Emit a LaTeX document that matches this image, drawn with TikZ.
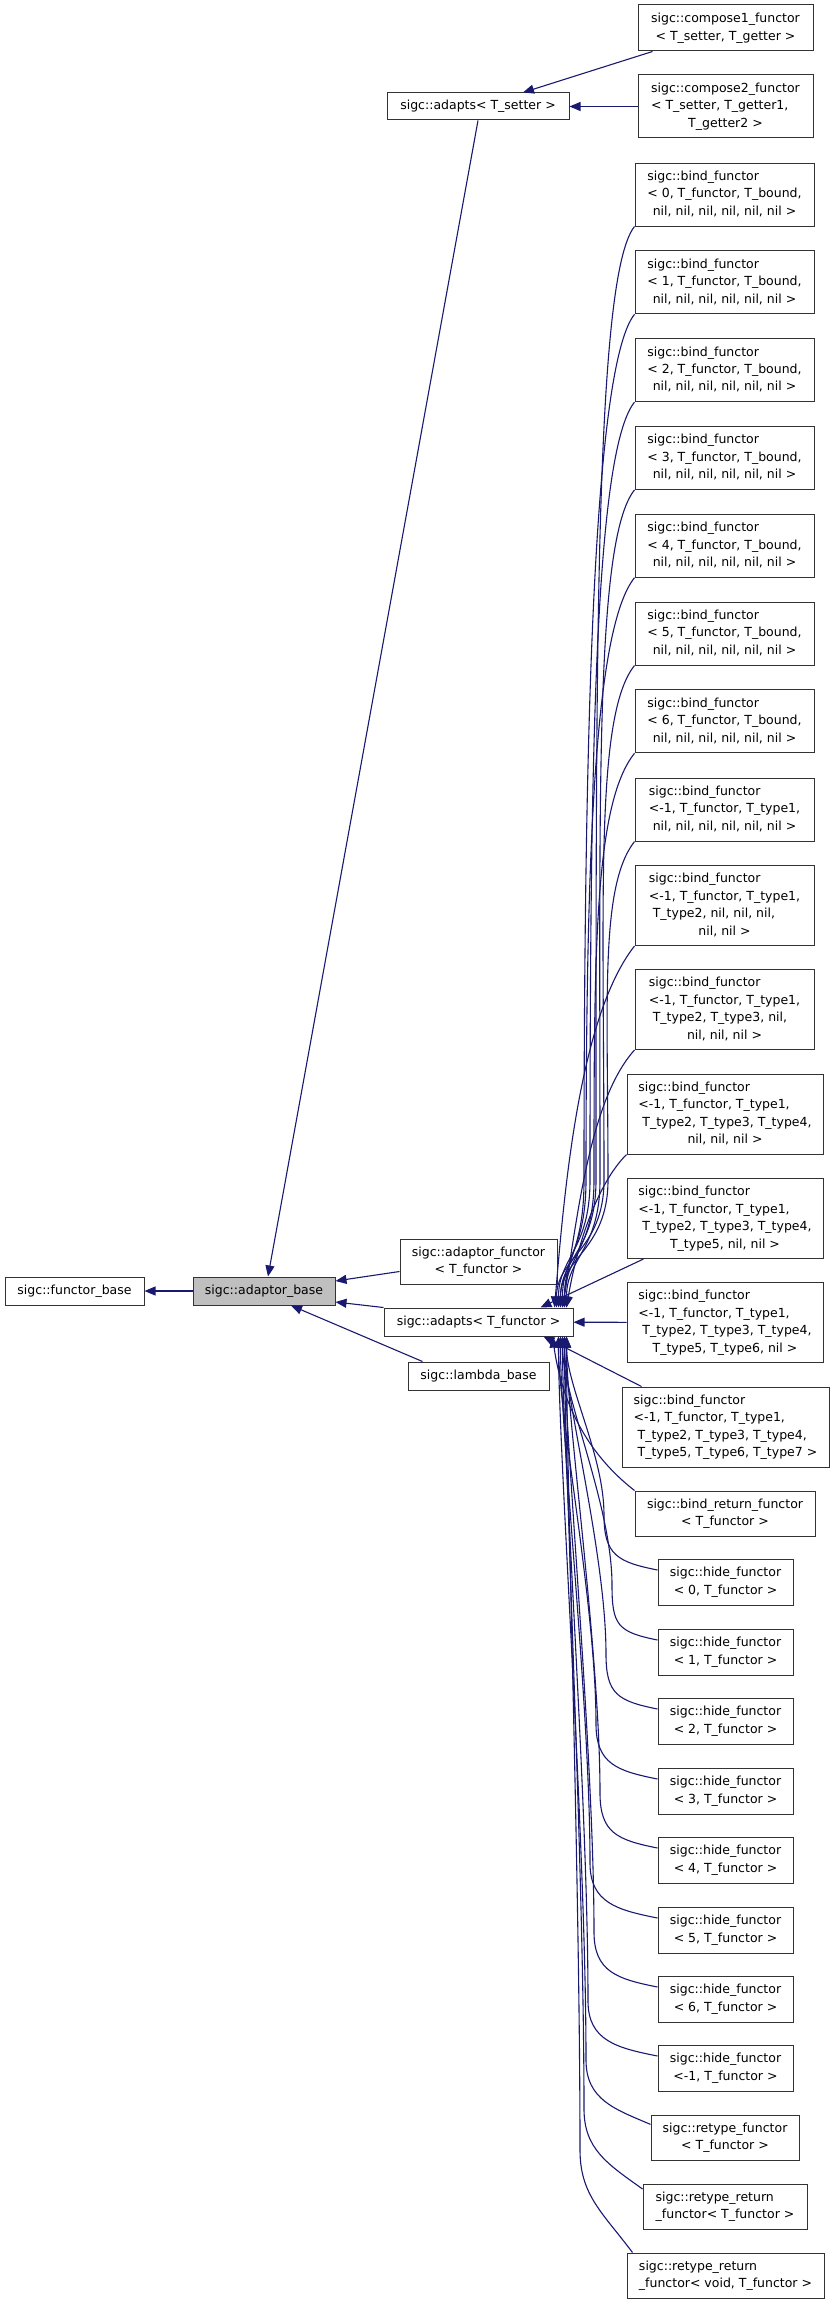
\documentclass[tikz,border=0pt]{standalone}
\usepackage{fontspec}
\newfontfamily\dvsans{DejaVu Sans}
\usetikzlibrary{arrows.meta}
\definecolor{edgeblue}{HTML}{191970}
\newcommand{\lrow}[1]{\multicolumn{1}{@{}l@{}}{#1}}
\newcommand{\clabel}[1]{\begin{tabular}{@{}c@{}}#1\end{tabular}}

\begin{document}
\begin{tikzpicture}[x=1pt,y=-1pt]
\tikzset{
  cls/.style={draw=black!80,line width=1pt,fill=white,inner sep=0pt,font=\dvsans\fontsize{12.5pt}{17.4pt}\selectfont},
  onebox/.style={cls,minimum height=28pt},
  twobox/.style={cls,minimum height=45pt},
  hidebox/.style={cls,minimum width=135pt,minimum height=46pt},
  bindbox/.style={cls,minimum width=179pt,minimum height=63pt},
  bindtall/.style={cls,minimum width=196pt,minimum height=80pt},
  inh/.style={draw=edgeblue,line width=1.1pt,>={Triangle[length=11pt,width=9pt]},<-}
}
\useasboundingbox (0,0) rectangle (835,2304);
% left part
\node[onebox,minimum width=139pt] (n_fbase) at (74.5,1291) {sigc::functor\_base};
\node[onebox,minimum width=142pt,fill=black!25] (n_abase) at (264,1291) {sigc::adaptor\_base};
\node[onebox,minimum width=182pt,minimum height=27pt] (n_asetter) at (478,106.5) {sigc::adapts< T\_setter >};
\node[twobox,minimum width=157pt] (n_afunctor) at (478.5,1261.5) {\clabel{sigc::adaptor\_functor\\< T\_functor >}};
\node[onebox,minimum width=189pt] (n_afunc) at (478.5,1322) {sigc::adapts< T\_functor >};
\node[onebox,minimum width=141pt] (n_lambda) at (478.5,1376) {sigc::lambda\_base};
% compose
\node[twobox,minimum width=175pt,minimum height=46pt] (n_comp1) at (725.5,28) {\clabel{sigc::compose1\_functor\\< T\_setter, T\_getter >}};
\node[cls,minimum width=175pt,minimum height=63pt] (n_comp2) at (725.5,106.5) {\clabel{\lrow{sigc::compose2\_functor}\\ \lrow{< T\_setter, T\_getter1,}\\ T\_getter2 >}};
% bind
\node[bindbox] (n_bind0) at (724.5,194.5) {\clabel{\lrow{sigc::bind\_functor}\\ \lrow{< 0, T\_functor, T\_bound,}\\ nil, nil, nil, nil, nil, nil >}};
\node[bindbox] (n_bind1) at (724.5,282.3) {\clabel{\lrow{sigc::bind\_functor}\\ \lrow{< 1, T\_functor, T\_bound,}\\ nil, nil, nil, nil, nil, nil >}};
\node[bindbox] (n_bind2) at (724.5,370.1) {\clabel{\lrow{sigc::bind\_functor}\\ \lrow{< 2, T\_functor, T\_bound,}\\ nil, nil, nil, nil, nil, nil >}};
\node[bindbox] (n_bind3) at (724.5,457.9) {\clabel{\lrow{sigc::bind\_functor}\\ \lrow{< 3, T\_functor, T\_bound,}\\ nil, nil, nil, nil, nil, nil >}};
\node[bindbox] (n_bind4) at (724.5,545.7) {\clabel{\lrow{sigc::bind\_functor}\\ \lrow{< 4, T\_functor, T\_bound,}\\ nil, nil, nil, nil, nil, nil >}};
\node[bindbox] (n_bind5) at (724.5,633.5) {\clabel{\lrow{sigc::bind\_functor}\\ \lrow{< 5, T\_functor, T\_bound,}\\ nil, nil, nil, nil, nil, nil >}};
\node[bindbox] (n_bind6) at (724.5,721.3) {\clabel{\lrow{sigc::bind\_functor}\\ \lrow{< 6, T\_functor, T\_bound,}\\ nil, nil, nil, nil, nil, nil >}};
\node[bindbox] (n_bindm1a) at (724.5,809.5) {\clabel{\lrow{sigc::bind\_functor}\\ \lrow{<-1, T\_functor, T\_type1,}\\ nil, nil, nil, nil, nil, nil >}};
\node[bindbox,minimum height=80pt] (n_bindm1b) at (724.5,905.5) {\clabel{\lrow{sigc::bind\_functor}\\ \lrow{<-1, T\_functor, T\_type1,}\\ \lrow{\ T\_type2, nil, nil, nil,}\\ nil, nil >}};
\node[bindbox,minimum height=80pt] (n_bindm1c) at (724.5,1009.5) {\clabel{\lrow{sigc::bind\_functor}\\ \lrow{<-1, T\_functor, T\_type1,}\\ \lrow{\ T\_type2, T\_type3, nil,}\\ nil, nil, nil >}};
\node[bindtall] (n_bindm1d) at (725,1114) {\clabel{\lrow{sigc::bind\_functor}\\ \lrow{<-1, T\_functor, T\_type1,}\\ \lrow{\ T\_type2, T\_type3, T\_type4,}\\ nil, nil, nil >}};
\node[bindtall] (n_bindm1e) at (725,1218.5) {\clabel{\lrow{sigc::bind\_functor}\\ \lrow{<-1, T\_functor, T\_type1,}\\ \lrow{\ T\_type2, T\_type3, T\_type4,}\\ T\_type5, nil, nil >}};
\node[bindtall] (n_bindm1f) at (725,1322.5) {\clabel{\lrow{sigc::bind\_functor}\\ \lrow{<-1, T\_functor, T\_type1,}\\ \lrow{\ T\_type2, T\_type3, T\_type4,}\\ T\_type5, T\_type6, nil >}};
\node[bindtall,minimum width=207pt] (n_bindm1g) at (725.5,1427) {\clabel{\lrow{sigc::bind\_functor}\\ \lrow{<-1, T\_functor, T\_type1,}\\ \lrow{\ T\_type2, T\_type3, T\_type4,}\\ \lrow{\ T\_type5, T\_type6, T\_type7 >}}};
\node[twobox,minimum width=180pt] (n_bindret) at (725,1513.5) {\clabel{sigc::bind\_return\_functor\\< T\_functor >}};
% hide
\node[hidebox] (n_hide0) at (725.5,1582) {\clabel{sigc::hide\_functor\\< 0, T\_functor >}};
\node[hidebox] (n_hide1) at (725.5,1652) {\clabel{sigc::hide\_functor\\< 1, T\_functor >}};
\node[hidebox] (n_hide2) at (725.5,1721) {\clabel{sigc::hide\_functor\\< 2, T\_functor >}};
\node[hidebox] (n_hide3) at (725.5,1791) {\clabel{sigc::hide\_functor\\< 3, T\_functor >}};
\node[hidebox] (n_hide4) at (725.5,1860) {\clabel{sigc::hide\_functor\\< 4, T\_functor >}};
\node[hidebox] (n_hide5) at (725.5,1930) {\clabel{sigc::hide\_functor\\< 5, T\_functor >}};
\node[hidebox] (n_hide6) at (725.5,1999) {\clabel{sigc::hide\_functor\\< 6, T\_functor >}};
\node[hidebox] (n_hidem1) at (725.5,2068) {\clabel{sigc::hide\_functor\\<-1, T\_functor >}};
% retype
\node[twobox,minimum width=148pt] (n_retype) at (725,2137.5) {\clabel{sigc::retype\_functor\\< T\_functor >}};
\node[twobox,minimum width=164pt] (n_retret) at (725,2206.5) {\clabel{\lrow{sigc::retype\_return}\\ \_functor< T\_functor >}};
\node[twobox,minimum width=197pt] (n_retvoid) at (725.5,2275.5) {\clabel{\lrow{sigc::retype\_return}\\ \_functor< void, T\_functor >}};

\draw[inh] (n_fbase) -- (n_abase);
\draw[inh] ([xshift=4pt]n_abase.north) -- (n_asetter.south);
\draw[inh] ([yshift=10pt]n_abase.east) -- ([yshift=-10pt]n_afunctor.west);
\draw[inh] ([yshift=-11pt]n_abase.east) -- (n_afunc.north west);
\draw[inh] ([xshift=27pt]n_abase.south) -- ([xshift=15pt]n_lambda.north west);
\draw[inh] ([xshift=45pt]n_asetter.north) -- ([xshift=15pt]n_comp1.south west);
\draw[inh] (n_asetter) -- (n_comp2);
% into adapts< T_functor >, from above
\draw[inh] ([xshift=82pt]n_afunc.north) .. controls +(0,-50) and +(0,70) .. (596,1180) .. controls +(0,-520) and +(-40,50) .. (n_bind0.south west);
\draw[inh] ([xshift=86pt]n_afunc.north) .. controls +(0,-50) and +(0,70) .. (584,1180) .. controls +(0,-470) and +(-40,50) .. (n_bind1.south west);
\draw[inh] ([xshift=80pt]n_afunc.north) .. controls +(0,-50) and +(0,70) .. (590,1180) .. controls +(0,-420) and +(-40,50) .. (n_bind2.south west);
\draw[inh] ([xshift=88pt]n_afunc.north) .. controls +(0,-50) and +(0,70) .. (600,1180) .. controls +(0,-380) and +(-40,50) .. (n_bind3.south west);
\draw[inh] ([xshift=84pt]n_afunc.north) .. controls +(0,-50) and +(0,70) .. (586,1180) .. controls +(0,-330) and +(-40,50) .. (n_bind4.south west);
\draw[inh] ([xshift=78pt]n_afunc.north) .. controls +(0,-50) and +(0,70) .. (604,1180) .. controls +(0,-280) and +(-40,50) .. (n_bind5.south west);
\draw[inh] ([xshift=86pt]n_afunc.north) .. controls +(0,-50) and +(0,70) .. (594,1180) .. controls +(0,-230) and +(-40,50) .. (n_bind6.south west);
\draw[inh] ([xshift=82pt]n_afunc.north) .. controls +(0,-50) and +(0,70) .. (608,1180) .. controls +(0,-180) and +(-35,45) .. (n_bindm1a.south west);
\draw[inh] ([xshift=76pt]n_afunc.north) .. controls +(10,-120) and +(-55,70) .. (n_bindm1b.south west);
\draw[inh] ([xshift=84pt]n_afunc.north) .. controls +(15,-90) and +(-45,50) .. (n_bindm1c.south west);
\draw[inh] ([xshift=88pt]n_afunc.north) .. controls +(10,-60) and +(-30,30) .. (n_bindm1d.south west);
\draw[inh] ([xshift=62pt]n_afunc.north) -- ([xshift=17pt]n_bindm1e.south west);
\draw[inh] (n_afunc) -- (n_bindm1f);
% into adapts< T_functor >, from below
\draw[inh] ([xshift=65pt]n_afunc.south) -- ([xshift=20pt]n_bindm1g.north west);
\draw[inh] ([xshift=74pt]n_afunc.south) .. controls +(10,70) and +(-45,-35) .. (n_bindret.north west);
\draw[inh] ([xshift=88pt]n_afunc.south) .. controls +(0,50) and +(0,-60) .. (604,1515) .. controls +(0,40) and +(-40,-8) .. (n_hide0.170);
\draw[inh] ([xshift=84pt]n_afunc.south) .. controls +(0,60) and +(0,-80) .. (612,1585) .. controls +(0,40) and +(-40,-8) .. (n_hide1.170);
\draw[inh] ([xshift=86pt]n_afunc.south) .. controls +(0,60) and +(0,-100) .. (606,1654) .. controls +(0,40) and +(-40,-8) .. (n_hide2.170);
\draw[inh] ([xshift=80pt]n_afunc.south) .. controls +(0,80) and +(0,-120) .. (596,1724) .. controls +(0,40) and +(-40,-8) .. (n_hide3.170);
\draw[inh] ([xshift=88pt]n_afunc.south) .. controls +(0,80) and +(0,-140) .. (600,1793) .. controls +(0,40) and +(-40,-8) .. (n_hide4.170);
\draw[inh] ([xshift=82pt]n_afunc.south) .. controls +(0,100) and +(0,-160) .. (590,1863) .. controls +(0,40) and +(-40,-8) .. (n_hide5.170);
\draw[inh] ([xshift=86pt]n_afunc.south) .. controls +(0,100) and +(0,-180) .. (594,1932) .. controls +(0,40) and +(-40,-8) .. (n_hide6.170);
\draw[inh] ([xshift=84pt]n_afunc.south) .. controls +(0,120) and +(0,-200) .. (588,2001) .. controls +(0,40) and +(-40,-8) .. (n_hidem1.170);
\draw[inh] ([xshift=80pt]n_afunc.south) .. controls +(0,120) and +(0,-220) .. (586,2060) .. controls +(0,40) and +(-35,-15) .. (n_retype.170);
\draw[inh] ([xshift=86pt]n_afunc.south) .. controls +(0,140) and +(0,-240) .. (584,2109) .. controls +(0,40) and +(-35,-25) .. (n_retret.168);
\draw[inh] ([xshift=88pt]n_afunc.south) .. controls +(0,140) and +(0,-260) .. (580,2150) .. controls +(0,45) and +(-30,-40) .. ([xshift=6pt]n_retvoid.north west);
\end{tikzpicture}
\end{document}
